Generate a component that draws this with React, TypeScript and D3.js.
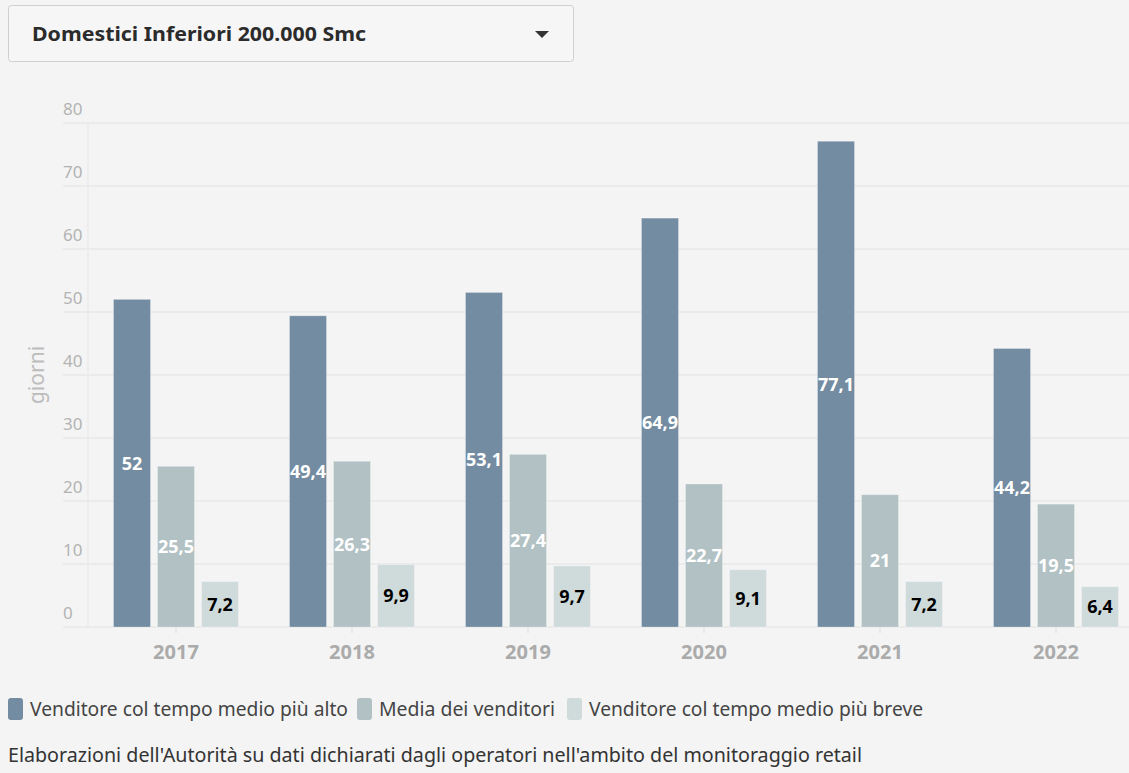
import React from "react";
import * as d3 from "d3";

const years = ["2017", "2018", "2019", "2020", "2021", "2022"];
const seriesNames = [
  "Venditore col tempo medio più alto",
  "Media dei venditori",
  "Venditore col tempo medio più breve",
];
const highest = [52, 49.4, 53.1, 64.9, 77.1, 44.2];
const average = [25.5, 26.3, 27.4, 22.7, 21, 19.5];
const lowest = [7.2, 9.9, 9.7, 9.1, 7.2, 6.4];
const yTicks = [0, 10, 20, 30, 40, 50, 60, 70, 80];
const colors = ["#738ca1", "#b2c1c4", "#cfdbdb"];
const labelColors = ["#ffffff", "#ffffff", "#000000"];
const title = "Domestici Inferiori 200.000 Smc";
const yTitle = "giorni";
const footer = "Elaborazioni dell'Autorità su dati dichiarati dagli operatori nell'ambito del monitoraggio retail";

const W = 1129;
const H = 773;
const FONT = "'Noto Sans', 'Open Sans', sans-serif";

export default function App() {
  const series = [highest, average, lowest];
  const x0 = d3.scaleBand<string>().domain(years).range([88, 1144]).paddingInner(0.29).paddingOuter(0.145);
  const x1 = d3.scaleBand<number>().domain([0, 1, 2]).range([0, x0.bandwidth()]).paddingInner(0.16);
  const y = d3.scaleLinear().domain([0, 80]).range([627, 123]);
  const fmt = (v: number) => String(v).replace(".", ",");

  const legendItems = [
    { x: 8, w: 318 },
    { x: 357, w: 176 },
    { x: 567, w: 334 },
  ];

  return (
    <div style={{ position: "fixed", left: 0, top: 0, width: W, height: H, background: "#f4f4f4" }}>
      <svg width={W} height={H} style={{ display: "block", fontFamily: FONT }}>
        <rect x={0} y={0} width={W} height={H} fill="#f4f4f4" />
        {/* dropdown */}
        <rect x={8.5} y={5.5} width={565} height={56} rx={3} fill="#f6f6f6" stroke="#cfcfcf" />
        <text x={32} y={41} fontSize={19} fontWeight={700} fill="#2b2b2b" textLength={334} lengthAdjust="spacingAndGlyphs">{title}</text>
        <path d="M535,31 L549,31 L542,38 Z" fill="#333" />

        {/* grid */}
        {yTicks.map((t) => (
          <g key={t}>
            <line x1={63} x2={W} y1={y(t)} y2={y(t)} stroke="#e8e8e8" strokeWidth={1.5} />
            <text x={63} y={y(t) - 8} fontSize={17} fill="#b3b3b3">{t}</text>
          </g>
        ))}
        <line x1={88} x2={88} y1={123} y2={627} stroke="#ebebeb" strokeWidth={1.5} />
        <text transform={`translate(44,375) rotate(-90)`} textAnchor="middle" fontSize={21} fill="#bdbdbd">{yTitle}</text>

        {/* bars */}
        {years.map((yr, i) => (
          <g key={yr} transform={`translate(${x0(yr)},0)`}>
            {series.map((s, k) => (
              <rect key={k} x={x1(k)} y={y(s[i])} width={x1.bandwidth()} height={y(0) - y(s[i])}
                fill={colors[k]} stroke="rgba(255,255,255,0.25)" strokeWidth={1} />
            ))}
            {series.map((s, k) => (
              <text key={"l" + k} x={(x1(k) as number) + x1.bandwidth() / 2} y={(y(s[i]) + y(0)) / 2}
                dy="0.36em" textAnchor="middle" fontSize={18} fontWeight={700} fill={labelColors[k]}>
                {fmt(s[i])}
              </text>
            ))}
            <line x1={x0.bandwidth() / 2} x2={x0.bandwidth() / 2} y1={627} y2={633} stroke="#ddd" />
            <text x={x0.bandwidth() / 2} y={659} textAnchor="middle" fontSize={20} fontWeight={700} fill="#ababab">{yr}</text>
          </g>
        ))}

        {/* legend */}
        {seriesNames.map((n, k) => (
          <g key={n} transform={`translate(${legendItems[k].x},0)`}>
            <rect x={0} y={698} width={15} height={22} rx={3} fill={colors[k]} />
            <text x={22} y={716} fontSize={19} fill="#444" textLength={legendItems[k].w} lengthAdjust="spacingAndGlyphs">{n}</text>
          </g>
        ))}
        <text x={8} y={762} fontSize={19} fill="#333" textLength={854} lengthAdjust="spacingAndGlyphs">{footer}</text>
      </svg>
    </div>
  );
}
